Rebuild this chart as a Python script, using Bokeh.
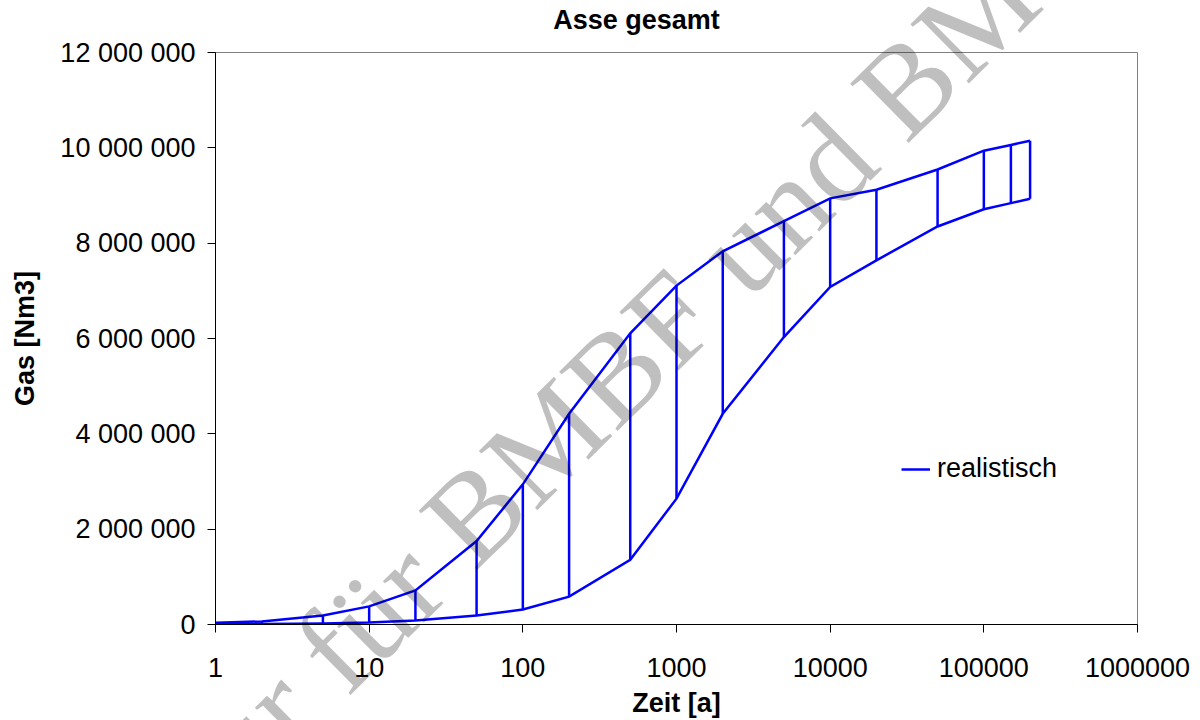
import math
from bokeh.plotting import figure
from bokeh.models import Range1d, FixedTicker, Legend, LegendItem
from bokeh.core.properties import value
from bokeh.embed import file_html
from bokeh.resources import INLINE

# ---- data ----
zeit = [1, 2, 5, 10, 20, 50, 100, 200, 500, 1000, 2000, 5000, 10000,
        20000, 50000, 100000, 150000, 200000]
gas_upper = [35000, 65000, 190000, 380000, 713000, 1750000, 2940000, 4420000,
             6110000, 7110000, 7830000, 8460000, 8940000, 9120000, 9545000,
             9940000, 10060000, 10150000]
gas_lower = [5000, 12000, 22000, 40000, 85000, 190000, 315000, 585000,
             1357000, 2640000, 4420000, 6030000, 7080000, 7640000, 8350000,
             8710000, 8840000, 8930000]

x_ticks = [1, 10, 100, 1000, 10000, 100000, 1000000]
x_tick_labels = ["1", "10", "100", "1000", "10000", "100000", "1000000"]
y_ticks = [0, 2000000, 4000000, 6000000, 8000000, 10000000, 12000000]
y_tick_labels = ["0", "2 000 000", "4 000 000", "6 000 000", "8 000 000",
                 "10 000 000", "12 000 000"]

title_text = "Asse gesamt"
series_name = "realistisch"
watermark_text = "Nur für BMBF und BMU"

FONT = "Liberation Sans"
BLUE = "#0000FF"

X_MIN, X_MAX = 1, 1000000
Y_MIN, Y_MAX = 0, 12000000
W, H = 1200, 720
B_LEFT, B_RIGHT, B_TOP, B_BOTTOM = 215, 63, 52, 96
frame_w = W - B_LEFT - B_RIGHT
frame_h = H - B_TOP - B_BOTTOM


def frame_px_to_data(px_from_left, px_above_bottom):
    """Convert a pixel offset from the frame's bottom-left corner to data units."""
    lx = math.log10(X_MIN) + px_from_left / frame_w * (math.log10(X_MAX) - math.log10(X_MIN))
    return 10 ** lx, Y_MIN + px_above_bottom / frame_h * (Y_MAX - Y_MIN)


p = figure(width=W, height=H, x_axis_type="log",
           x_range=Range1d(X_MIN, X_MAX), y_range=Range1d(Y_MIN, Y_MAX),
           output_backend="svg", toolbar_location=None,
           min_border_left=B_LEFT, min_border_right=B_RIGHT,
           min_border_top=B_TOP, min_border_bottom=B_BOTTOM)

p.background_fill_color = "white"
p.border_fill_color = "white"
p.outline_line_color = "#808080"
p.outline_line_width = 1
p.xgrid.visible = False
p.ygrid.visible = False

# axes
p.xaxis.ticker = FixedTicker(ticks=x_ticks, minor_ticks=[])
p.yaxis.ticker = FixedTicker(ticks=y_ticks, minor_ticks=[])
p.xaxis.major_label_overrides = dict(zip(x_ticks, x_tick_labels))
p.yaxis.major_label_overrides = dict(zip(y_ticks, y_tick_labels))
for ax in (p.xaxis[0], p.yaxis[0]):
    ax.axis_line_color = "black"
    ax.axis_line_width = 1
    ax.major_tick_line_color = "black"
    ax.major_tick_in = 0
    ax.major_tick_out = 8
    ax.minor_tick_line_color = None
    ax.major_label_text_font = FONT
    ax.major_label_text_font_size = "27px"
    ax.major_label_text_color = "black"
    ax.axis_label_text_font = FONT
    ax.axis_label_text_font_size = "27px"
    ax.axis_label_text_font_style = "bold"
    ax.axis_label_text_color = "black"

p.xaxis.axis_label = "Zeit [a]"
p.yaxis.axis_label = "Gas [Nm3]"
p.xaxis.major_label_standoff = 25
p.xaxis.axis_label_standoff = 8
p.yaxis.major_label_standoff = 12
p.yaxis.axis_label_standoff = 17

# data marks
upper_r = p.line(zeit, gas_upper, line_color=BLUE, line_width=2.5,
                 line_join="miter")
p.line(zeit, gas_lower, line_color=BLUE, line_width=2.5, line_join="miter")
p.segment(x0=zeit, y0=gas_lower, x1=zeit, y1=gas_upper,
          line_color=BLUE, line_width=2.5)

# legend
legend = Legend(items=[LegendItem(label=series_name, renderers=[upper_r])],
                location=(686, 140), padding=0, margin=0, spacing=0,
                glyph_width=29, glyph_height=26, label_height=26,
                label_standoff=7,
                label_text_font=FONT, label_text_font_size="27px",
                label_text_color="black",
                border_line_color=None, background_fill_alpha=0)
p.add_layout(legend)

# chart title (placed above the frame, left of the frame's centre as in the reference)
tx, ty = frame_px_to_data(421, 605)
p.text(x=[tx], y=[ty], text=[title_text], text_font=value(FONT),
       text_font_size="27px", text_font_style="bold", text_color="black",
       text_align="center", text_baseline="alphabetic", level="overlay")

# watermark (semi-transparent grey, on top, not clipped to the frame)
wx, wy = frame_px_to_data(-62, -205)
p.text(x=[wx], y=[wy], text=[watermark_text],
       text_font=value("Liberation Serif"), text_font_size="127px",
       text_color="black", text_alpha=0.25, angle=0.78,
       text_align="left", text_baseline="alphabetic", level="overlay")

open("out.html", "w").write(file_html(p, INLINE))
